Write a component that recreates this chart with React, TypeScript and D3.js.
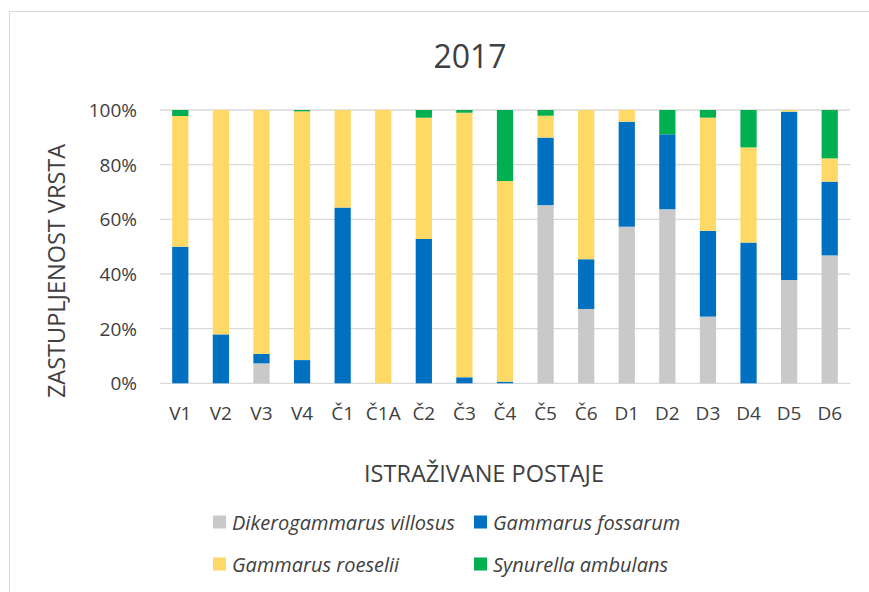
import React from "react";
import * as d3 from "d3";

const categories = ["V1", "V2", "V3", "V4", "Č1", "Č1A", "Č2", "Č3", "Č4", "Č5", "Č6", "D1", "D2", "D3", "D4", "D5", "D6"];
const seriesNames = ["Dikerogammarus villosus", "Gammarus fossarum", "Gammarus roeselii", "Synurella ambulans"];
const villosus = [0, 0, 7.3, 0, 0, 0, 0, 0, 0, 65.2, 27.2, 57.3, 63.7, 24.4, 0, 37.8, 46.8];
const fossarum = [50, 17.9, 3.5, 8.5, 64.3, 0, 52.8, 2.2, 0.6, 24.7, 18.2, 38.4, 27.4, 31.4, 51.5, 61.6, 27.0];
const roeselii = [47.8, 82.1, 89.2, 91.0, 35.7, 100, 44.4, 96.8, 73.4, 8.0, 54.6, 4.3, 0, 41.4, 34.8, 0.6, 8.5];
const ambulans = [2.2, 0, 0, 0.5, 0, 0, 2.8, 1.0, 26.0, 2.1, 0, 0, 8.9, 2.8, 13.7, 0, 17.7];
const yTicks = [0, 20, 40, 60, 80, 100];
const colors = ["#C9C9C9", "#0070C0", "#FFD966", "#00B050"];

const W = 869, H = 592;
const M = { left: 160, right: 850, top: 110, bottom: 383.3 };
const FONT = "'Open Sans', 'Noto Sans', sans-serif";
const TXT = "#404040";

export default function App() {
  const rows = categories.map((c, i) => ({
    cat: c,
    [seriesNames[0]]: villosus[i],
    [seriesNames[1]]: fossarum[i],
    [seriesNames[2]]: roeselii[i],
    [seriesNames[3]]: ambulans[i],
  }));
  const stack = d3.stack<any>().keys(seriesNames)(rows);
  const x = d3.scaleBand().domain(categories).range([M.left, M.right]).paddingInner(0.6).paddingOuter(0.3);
  const y = d3.scaleLinear().domain([0, 100]).range([M.bottom, M.top]);
  const legendItems = [
    { name: seriesNames[0], c: colors[0], x: 213, y: 522 },
    { name: seriesNames[1], c: colors[1], x: 474, y: 522 },
    { name: seriesNames[2], c: colors[2], x: 213, y: 564 },
    { name: seriesNames[3], c: colors[3], x: 474, y: 564 },
  ];
  return (
    <svg width={W} height={H} style={{ position: "absolute", left: 0, top: 0, background: "#fff" }} fontFamily={FONT}>
      <rect x={9.5} y={11.5} width={W + 10} height={H + 10} fill="#fff" stroke="#d9d9d9" strokeWidth={1} />
      <text x={470} y={55} textAnchor="middle" dominantBaseline="central" fontSize={32} fill={TXT}>2017</text>
      {yTicks.map((t) => (
        <g key={t}>
          <line x1={M.left} x2={M.right} y1={y(t)} y2={y(t)} stroke="#d9d9d9" strokeWidth={1.3} />
          <text x={137} y={y(t)} textAnchor="end" dominantBaseline="central" fontSize={19} fill={TXT}>{t}%</text>
        </g>
      ))}
      {stack.map((s, si) => (
        <g key={s.key} fill={colors[si]}>
          {s.map((d, i) => (
            d[1] - d[0] > 0 ? (
              <rect key={i} x={x(categories[i])} width={x.bandwidth()} y={y(d[1])} height={y(d[0]) - y(d[1])} />
            ) : null
          ))}
        </g>
      ))}
      {categories.map((c) => (
        <text key={c} x={(x(c) as number) + x.bandwidth() / 2} y={413} textAnchor="middle" dominantBaseline="central" fontSize={19} fill={TXT}>{c}</text>
      ))}
      <text x={484} y={473} textAnchor="middle" dominantBaseline="central" fontSize={23.5} fill={TXT}>ISTRAŽIVANE POSTAJE</text>
      <text transform={`translate(56,${271}) rotate(-90)`} textAnchor="middle" dominantBaseline="central" fontSize={23.5} fill={TXT}>ZASTUPLJENOST VRSTA</text>
      {legendItems.map((l) => (
        <g key={l.name}>
          <rect x={l.x} y={l.y - 6.5} width={13} height={13} fill={l.c} />
          <text x={l.x + 19} y={l.y} dominantBaseline="central" fontSize={20} fontStyle="italic" fill={TXT}>{l.name}</text>
        </g>
      ))}
    </svg>
  );
}
